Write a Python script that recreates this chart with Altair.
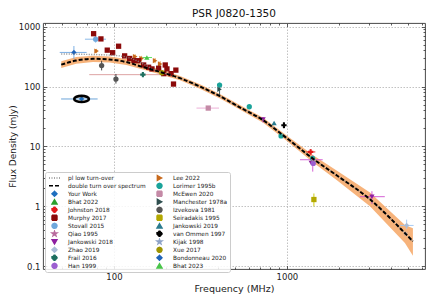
import altair as alt
import pandas as pd

# ---------------- model curves ----------------
curve_freq = [49.6, 60.5, 75.7, 94.4, 118, 147, 184, 241, 314, 410, 534, 729, 996, 1419, 1937, 3020, 4810, 5350]
dtos_flux = [232, 272, 290, 283, 256, 212, 176, 138, 100, 69, 45, 27.3, 13.8, 6.2, 3.3, 1.31, 0.357, 0.26]
band_hi = [265, 310, 328, 317, 287, 233, 194, 150, 109, 75, 49, 30, 15.2, 7.1, 3.95, 1.7, 0.49, 0.43]
band_lo = [203, 239, 257, 253, 229, 193, 160, 127, 92, 63, 41.3, 24.8, 12.5, 5.4, 2.75, 1.0, 0.245, 0.15]

pl_freq = [49.6, 60.5, 75.7, 94.4, 108, 118, 132, 147, 165, 184, 241, 314, 410, 534, 729, 996, 1419, 1937, 3020, 4810, 5350]
pl_flux = [350, 347, 342, 335, 325, 310, 280, 240, 200, 178, 138, 100, 69, 45, 27.3, 13.8, 6.2, 3.3, 1.31, 0.357, 0.26]

# ---------------- measurements ----------------
pt_series = (["Your Work", "Bondonneau 2020", "Stovall 2015"]
             + ["Lee 2022"] * 5
             + ["Murphy 2017"] * 19
             + ["Izvekova 1981"] * 2
             + ["Frail 2016", "Bhat 2023", "Xue 2017", "McEwen 2020"]
             + ["Lorimer 1995b"] * 4
             + ["Manchester 1978a", "Jankowski 2019", "van Ommen 1997"]
             + ["Jankowski 2018"] * 3
             + ["Johnston 2018", "Han 1999", "Qiao 1995", "Seiradakis 1995", "Zhao 2019", "Kijak 1998"])
pt_freq = ([65, 58.7, 78.4]
           + [79.4, 132.7, 144.5, 173, 185]
           + [76.3, 84.1, 91.5, 98.3, 106.4, 115.3, 123.3, 130.5, 139, 148.5, 158.7, 165.9, 181.3, 198, 202.5, 194, 214, 221, 228]
           + [84.9, 102.7]
           + [147, 155, 189, 351]
           + [408, 606, 925, 1408]
           + [408, 843, 961]
           + [728, 1382, 3100]
           + [1371, 1420, 1410, 1432, 4920, 4850])
pt_flux = ([62, 371, 617]
           + [391, 316, 294, 270, 238]
           + [762, 624, 405, 367, 471, 325, 294, 272, 270, 229, 210, 197, 202, 229, 197, 164, 164, 110, 188]
           + [224, 133]
           + [158, 305, 170, 43.7]
           + [106, 46, 15, 6.3]
           + [90, 24.7, 22.6]
           + [28, 5.3, 1.45]
           + [8.1, 5.2, 6.0, 1.3, 0.48, 0.35])

xe_series = ["Your Work", "Bondonneau 2020", "Stovall 2015", "Frail 2016", "Bhat 2023", "McEwen 2020",
             "Qiao 1995", "Johnston 2018", "Jankowski 2018", "Zhao 2019"]
xe_lo = [49.5, 48.6, 68, 72, 146, 300, 1190, 1290, 2640, 4500]
xe_hi = [80.5, 69.5, 90, 219, 166, 405, 1610, 1460, 3680, 5400]
xe_flux = [62, 371, 617, 158, 305, 43.7, 6.0, 8.1, 1.45, 0.48]

ye_series = ["Your Work", "Bondonneau 2020", "Stovall 2015", "Izvekova 1981", "Izvekova 1981",
             "Lee 2022", "Lee 2022", "Lee 2022", "Lee 2022", "Lee 2022",
             "Manchester 1978a", "Lorimer 1995b", "van Ommen 1997", "Jankowski 2018", "Jankowski 2018",
             "Qiao 1995", "Johnston 2018", "Seiradakis 1995", "Zhao 2019"]
ye_freq = [65, 58.7, 78.4, 84.9, 102.7, 79.4, 132.7, 144.5, 173, 185, 408, 408, 961, 728, 3100, 1410, 1371, 1432, 4920]
ye_lo = [55, 290, 540, 186, 112, 360, 290, 265, 245, 215, 70, 96, 20, 25, 1.09, 3.8, 7.3, 1.0, 0.42]
ye_hi = [70, 475, 700, 269, 162, 425, 345, 325, 300, 265, 100, 116, 25.5, 31, 1.79, 7.2, 9.0, 1.64, 0.6]

# ---------------- legend / style ----------------
col1 = ["pl low turn-over", "double turn over spectrum", "Your Work", "Bhat 2022", "Johnston 2018",
        "Murphy 2017", "Stovall 2015", "Qiao 1995", "Jankowski 2018", "Zhao 2019", "Frail 2016", "Han 1999"]
col2 = ["Lee 2022", "Lorimer 1995b", "McEwen 2020", "Manchester 1978a", "Izvekova 1981", "Seiradakis 1995",
        "Jankowski 2019", "van Ommen 1997", "Kijak 1998", "Xue 2017", "Bondonneau 2020", "Bhat 2023"]

STAR = "M0,-1L0.2245,-0.309L0.951,-0.309L0.363,0.118L0.588,0.809L0,0.382L-0.588,0.809L-0.363,0.118L-0.951,-0.309L-0.2245,-0.309Z"
LINE = "M-2.2,0L2.2,0"
style = {
    "pl low turn-over": ("#8a8a8a", LINE, [1, 1.5]),
    "double turn over spectrum": ("#000000", LINE, [4, 2]),
    "Your Work": ("#1f6fbf", "diamond", [1, 0]),
    "Bhat 2022": ("#2ca02c", "triangle-up", [1, 0]),
    "Johnston 2018": ("#e31a1c", "cross", [1, 0]),
    "Murphy 2017": ("#8b0a0a", "square", [1, 0]),
    "Stovall 2015": ("#6fa8dc", "circle", [1, 0]),
    "Qiao 1995": ("#b86b9e", STAR, [1, 0]),
    "Jankowski 2018": ("#8e1fa0", "triangle-down", [1, 0]),
    "Zhao 2019": ("#a9bcd6", "diamond", [1, 0]),
    "Frail 2016": ("#1d6f5f", "cross", [1, 0]),
    "Han 1999": ("#9b5fd0", "circle", [1, 0]),
    "Lee 2022": ("#c8691c", "triangle-right", [1, 0]),
    "Lorimer 1995b": ("#1aa39a", "circle", [1, 0]),
    "McEwen 2020": ("#c48aa6", "square", [1, 0]),
    "Manchester 1978a": ("#2f4f4f", "triangle-right", [1, 0]),
    "Izvekova 1981": ("#555555", "circle", [1, 0]),
    "Seiradakis 1995": ("#b3a800", "square", [1, 0]),
    "Jankowski 2019": ("#2a7b8f", "triangle-up", [1, 0]),
    "van Ommen 1997": ("#000000", "cross", [1, 0]),
    "Kijak 1998": ("#8ea3c7", STAR, [1, 0]),
    "Xue 2017": ("#9e9400", "circle", [1, 0]),
    "Bondonneau 2020": ("#1f63b8", "diamond", [1, 0]),
    "Bhat 2023": ("#49c449", "triangle-up", [1, 0]),
}
ecolor = {
    "Your Work": "#5b9bd5", "Bondonneau 2020": "#6ea6e0", "Stovall 2015": "#7fb2e5",
    "Frail 2016": "#d99a9a", "Bhat 2023": "#55e055", "McEwen 2020": "#eaa8d2",
    "Qiao 1995": "#d050d0", "Johnston 2018": "#e31a1c", "Jankowski 2018": "#d050d0",
    "Zhao 2019": "#9fc5f0", "Izvekova 1981": "#333333", "Lee 2022": "#e69a3c",
    "Manchester 1978a": "#2f4f4f", "Lorimer 1995b": "#1aa39a", "van Ommen 1997": "#000000",
    "Seiradakis 1995": "#c8c800",
}

domain = col1 + col2
cscale = alt.Scale(domain=domain, range=[style[s][0] for s in domain])
sscale = alt.Scale(domain=domain, range=[style[s][1] for s in domain])
dscale = alt.Scale(domain=domain, range=[style[s][2] for s in domain])

leg = alt.Legend(title=None, orient="none", legendX=2, legendY=149, columns=2, gridAlign="each",
                 symbolSize=25, symbolStrokeWidth=1.4, symbolOffset=4, labelFontSize=5.8,
                 labelFont="DejaVu Sans", labelColor="#222222", rowPadding=0, columnPadding=6,
                 padding=2, labelOffset=10, clipHeight=7.6,
                 fillColor="rgba(255,255,255,0.85)", strokeColor="#cccccc", cornerRadius=2, labelLimit=200)

# ---------------- data frames ----------------
curve_df = pd.DataFrame({"f": curve_freq, "s": dtos_flux, "lo": band_lo, "hi": band_hi,
                         "series": "double turn over spectrum"})
pl_df = pd.DataFrame({"f": pl_freq, "s": pl_flux, "series": "pl low turn-over"})
pt_df = pd.DataFrame({"f": pt_freq, "s": pt_flux, "series": pt_series})
xe_df = pd.DataFrame({"lo": xe_lo, "hi": xe_hi, "s": xe_flux, "series": xe_series})
xe_df["ec"] = xe_df["series"].map(ecolor)
ye_df = pd.DataFrame({"f": ye_freq, "lo": ye_lo, "hi": ye_hi, "series": ye_series})
ye_df["ec"] = ye_df["series"].map(ecolor)
yw_df = pt_df[pt_df["series"] == "Your Work"]

# ---------------- scales & axes ----------------
xs = alt.Scale(type="log", domain=[38.9, 6283], nice=False)
ys = alt.Scale(type="log", domain=[0.09, 1150], nice=False)

x_major = [100, 1000]
x_minor = [40, 50, 60, 70, 80, 90, 200, 300, 400, 500, 600, 700, 800, 900, 2000, 3000, 4000, 5000, 6000]
y_major = [0.1, 1, 10, 100, 1000]
y_minor = [0.2, 0.3, 0.4, 0.5, 0.6, 0.7, 0.8, 0.9, 2, 3, 4, 5, 6, 7, 8, 9,
           20, 30, 40, 50, 60, 70, 80, 90, 200, 300, 400, 500, 600, 700, 800, 900]

grid_kw = dict(grid=True, gridColor="#a8a8a8", gridDash=[1.5, 1.5], gridWidth=0.7)
ax_x_lab = alt.Axis(orient="bottom", values=x_major, format="~g", title="Frequency (MHz)", ticks=False,
                    tickSize=0, domain=False, labelFontSize=8.5, labelPadding=3, labelColor="#222222",
                    titleFontSize=9.5, titleFontWeight="normal", titlePadding=3, titleColor="#222222", **grid_kw)
ax_y_lab = alt.Axis(orient="left", values=y_major, format="~g", title="Flux Density (mJy)", ticks=False,
                    tickSize=0, domain=False, labelFontSize=8.5, labelPadding=3, labelColor="#222222",
                    titleFontSize=9, titleFontWeight="normal", titlePadding=1, titleColor="#222222", **grid_kw)


def tick_axis(orient, values, size):
    return alt.Axis(orient=orient, values=values, labels=False, domain=False, grid=False, ticks=True,
                    tickSize=size, offset=-size, tickColor="#333333", tickWidth=0.8, title=None)


MAJ, MIN = 3.5, 2

band = alt.Chart(curve_df).mark_area(color="#f5a05a", opacity=0.8).encode(
    x=alt.X("f:Q", scale=xs, axis=ax_x_lab),
    y=alt.Y("lo:Q", scale=ys, axis=ax_y_lab),
    y2="hi:Q",
)

xerr = alt.Chart(xe_df).mark_rule(strokeWidth=0.9).encode(
    x=alt.X("lo:Q", scale=xs, axis=tick_axis("top", x_major, MAJ)),
    x2="hi:Q",
    y=alt.Y("s:Q", scale=ys, axis=tick_axis("right", y_major, MAJ)),
    stroke=alt.Stroke("ec:N", scale=None),
)

yerr = alt.Chart(ye_df).mark_rule(strokeWidth=0.9).encode(
    x=alt.X("f:Q", scale=xs, axis=tick_axis("top", x_minor, MIN)),
    y=alt.Y("lo:Q", scale=ys, axis=tick_axis("right", y_minor, MIN)),
    y2="hi:Q",
    stroke=alt.Stroke("ec:N", scale=None),
)

points = alt.Chart(pt_df).mark_point(filled=True, size=28, opacity=1).encode(
    x=alt.X("f:Q", scale=xs, axis=tick_axis("bottom", x_major, MAJ)),
    y=alt.Y("s:Q", scale=ys, axis=tick_axis("left", y_major, MAJ)),
    color=alt.Color("series:N", scale=cscale, legend=leg),
    shape=alt.Shape("series:N", scale=sscale, legend=leg),
)

pl_line = alt.Chart(pl_df).mark_line(strokeWidth=1.4, interpolate="monotone").encode(
    x=alt.X("f:Q", scale=xs, axis=tick_axis("bottom", x_minor, MIN)),
    y=alt.Y("s:Q", scale=ys, axis=tick_axis("left", y_minor, MIN)),
    color=alt.Color("series:N", scale=cscale, legend=leg),
    strokeDash=alt.StrokeDash("series:N", scale=dscale, legend=leg),
)

dtos_line = alt.Chart(curve_df).mark_line(strokeWidth=2.0, interpolate="monotone").encode(
    x=alt.X("f:Q", scale=xs, axis=None),
    y=alt.Y("s:Q", scale=ys, axis=None),
    color=alt.Color("series:N", scale=cscale, legend=leg),
    strokeDash=alt.StrokeDash("series:N", scale=dscale, legend=leg),
)

ellipse = alt.Chart(yw_df).mark_point(
    shape="M-1,0A1,0.42 0 1,0 1,0A1,0.42 0 1,0 -1,0", filled=False, stroke="black",
    strokeWidth=2.6, size=215, opacity=1
).encode(
    x=alt.X("f:Q", scale=xs, axis=None),
    y=alt.Y("s:Q", scale=ys, axis=None),
)

chart = alt.layer(band, xerr, yerr, points, pl_line, dtos_line, ellipse).resolve_axis(
    x="independent", y="independent"
).properties(
    width=382, height=246,
    autosize=alt.AutoSizeParams(type="none"),
    padding={"left": 35, "top": 15, "right": 1, "bottom": 26},
    title=alt.Title("PSR J0820-1350", fontSize=10.5, fontWeight="normal", offset=3, anchor="middle",
                    font="DejaVu Sans", color="#111111"),
).configure(font="DejaVu Sans").configure_view(stroke="#333333", strokeWidth=0.9)

chart.save("out.html", embed_options={"renderer": "svg", "actions": False})
